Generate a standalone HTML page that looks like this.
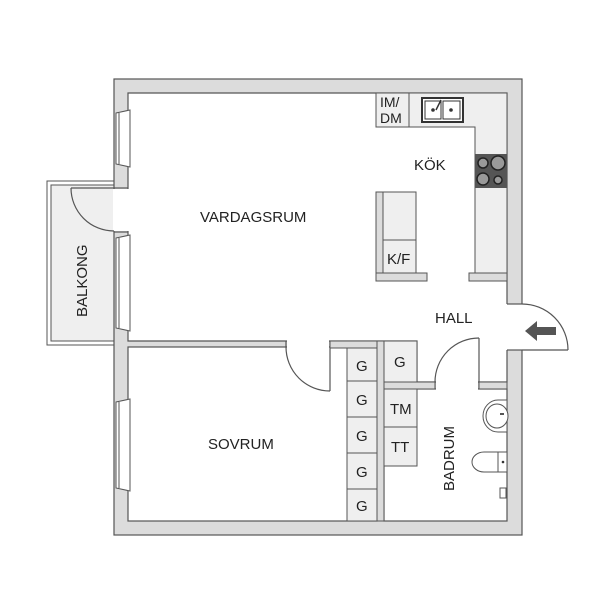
<!DOCTYPE html>
<html><head><meta charset="utf-8"><style>html,body{margin:0;padding:0;background:#fff}svg{display:block}text{font-family:"Liberation Sans",sans-serif;fill:#222}</style></head>
<body>
<svg width="615" height="615" viewBox="0 0 615 615" xmlns="http://www.w3.org/2000/svg">
<rect width="615" height="615" fill="#fff"/>
<rect x="47" y="181" width="67" height="164" fill="#fff" stroke="#555" stroke-width="1"/>
<rect x="51" y="185" width="63" height="156" fill="#efefef" stroke="#555" stroke-width="1"/>
<rect x="114" y="79" width="408" height="456" fill="#dcdcdc" stroke="#555" stroke-width="1.2"/>
<polygon points="128,93 507,93 507,382 417,382 417,341 128,341" fill="#fff" stroke="#555" stroke-width="1.2"/>
<rect x="128" y="347" width="249" height="174" fill="#fff" stroke="#555" stroke-width="1.2"/>
<rect x="384" y="389" width="123" height="132" fill="#fff" stroke="#555" stroke-width="1.2"/>
<rect x="287" y="340" width="42" height="8" fill="#fff"/>
<rect x="436" y="381" width="42" height="9" fill="#fff"/>
<rect x="113" y="189" width="16" height="42" fill="#fff"/>
<rect x="506" y="304" width="17" height="46" fill="#fff"/>
<g stroke="#555" stroke-width="1.2" fill="none">
<line x1="286" y1="341" x2="286" y2="347"/><line x1="330" y1="341" x2="330" y2="347"/>
<line x1="435" y1="382" x2="435" y2="389"/><line x1="479" y1="382" x2="479" y2="389"/>
<line x1="114" y1="188" x2="128" y2="188"/><line x1="114" y1="232" x2="128" y2="232"/>
<line x1="507" y1="304" x2="522" y2="304"/><line x1="507" y1="350" x2="522" y2="350"/>
<line x1="330" y1="347" x2="330" y2="391"/><path d="M286,347 A44,44 0 0 0 330,391"/>
<line x1="479" y1="382" x2="479" y2="338"/><path d="M435,382 A44,44 0 0 1 479,338"/>
<line x1="71" y1="188" x2="114" y2="188"/><path d="M71,188 A43,43 0 0 0 114,231"/>
<line x1="522" y1="350" x2="568" y2="350"/><path d="M522,304 A46,46 0 0 1 568,350"/>
</g>
<g fill="#fff" stroke="#555" stroke-width="1">
<polygon points="116,113 130,110 130,167 116,164"/>
<polygon points="116,238 130,235 130,331 116,328"/>
<polygon points="116,402 130,399 130,491 116,488"/>
</g>
<g stroke="#555" stroke-width="1"><line x1="119" y1="113" x2="119" y2="164"/><line x1="119" y1="238" x2="119" y2="328"/><line x1="119" y1="402" x2="119" y2="488"/></g>
<g fill="#efefef" stroke="#555" stroke-width="1">
<polygon points="376,93 507,93 507,273 475,273 475,127 376,127"/>
<line x1="409" y1="93" x2="409" y2="127"/>
<rect x="469" y="273" width="38" height="8" fill="#dcdcdc"/>
<rect x="376" y="192" width="40" height="81"/>
<rect x="376" y="192" width="7" height="81" fill="#dcdcdc"/>
<line x1="383" y1="240" x2="416" y2="240"/>
<rect x="376" y="273" width="51" height="8" fill="#dcdcdc"/>
</g>
<rect x="475" y="154" width="32" height="34" fill="#555"/>
<g stroke="#222" stroke-width="1.5" fill="#999"><circle cx="483" cy="163" r="5"/><circle cx="498" cy="163" r="7"/><circle cx="483" cy="179" r="6"/><circle cx="498" cy="180" r="4"/></g>
<rect x="422" y="98" width="41" height="24" fill="#fff" stroke="#333" stroke-width="2"/>
<rect x="425" y="101" width="16" height="18" fill="#fff" stroke="#333" stroke-width="1"/>
<rect x="443" y="101" width="17" height="18" fill="#fff" stroke="#333" stroke-width="1"/>
<circle cx="433" cy="110" r="1.8" fill="#333"/><circle cx="451" cy="110" r="1.8" fill="#333"/>
<line x1="436" y1="110" x2="441" y2="100" stroke="#333" stroke-width="1.5"/>
<g fill="#efefef" stroke="#555" stroke-width="1">
<rect x="347" y="348" width="30" height="33"/><rect x="347" y="381" width="30" height="36"/><rect x="347" y="417" width="30" height="36"/><rect x="347" y="453" width="30" height="36"/><rect x="347" y="489" width="30" height="32"/>
<rect x="384" y="341" width="33" height="41"/>
<rect x="384" y="389" width="33" height="38"/><rect x="384" y="427" width="33" height="39"/>
<rect x="330" y="341" width="47" height="7" fill="#dcdcdc"/>
<rect x="377" y="341" width="7" height="180" fill="#dcdcdc"/>
<rect x="384" y="382" width="51" height="7" fill="#dcdcdc"/>
<rect x="479" y="382" width="28" height="7" fill="#dcdcdc"/>
</g>
<g fill="#fff" stroke="#555" stroke-width="1">
<path d="M507,400 L498,400 A15,16 0 0 0 498,432 L507,432 Z"/>
<ellipse cx="497" cy="416" rx="11" ry="12"/>
<path d="M507,452 L484,452 A12,10 0 0 0 484,472 L507,472 Z"/>
<line x1="498" y1="452" x2="498" y2="472"/>
</g>
<line x1="500" y1="414" x2="504" y2="414" stroke="#555" stroke-width="2"/>
<circle cx="503" cy="462" r="1.3" fill="#333"/>
<rect x="500" y="488" width="6" height="10" fill="#fff" stroke="#555"/>
<polygon points="525,331 537,321 537,327 556,327 556,335 537,335 537,341" fill="#555"/>
<g font-size="15">
<text x="200" y="222">VARDAGSRUM</text>
<text x="414" y="170">KÖK</text>
<text x="435" y="323">HALL</text>
<text x="208" y="449">SOVRUM</text>
<text x="387" y="264">K/F</text>
<text x="380" y="107" font-size="14">IM/</text>
<text x="380" y="123" font-size="14">DM</text>
<text x="394" y="367">G</text>
<text x="356" y="371">G</text><text x="356" y="405">G</text><text x="356" y="441">G</text><text x="356" y="477">G</text><text x="356" y="511">G</text>
<text x="390" y="414">TM</text><text x="391" y="452">TT</text>
<text transform="translate(454,491) rotate(-90)">BADRUM</text>
<text transform="translate(87,317) rotate(-90)">BALKONG</text>
</g>
</svg>
</body></html>
